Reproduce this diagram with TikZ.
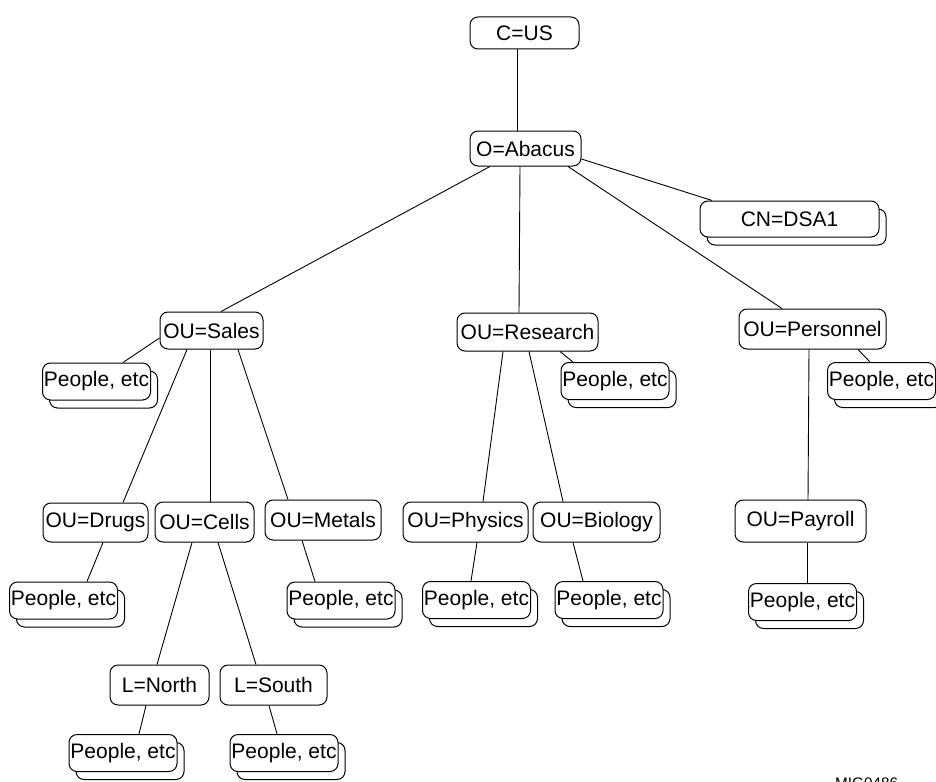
\documentclass[tikz,border=0pt]{standalone}
\usepackage{fontspec}
\setmainfont{Liberation Sans}
\usetikzlibrary{shadows}
\begin{document}
\begin{tikzpicture}[x=1pt,y=-1pt,
  every node/.style={font=\fontsize{21}{24}\selectfont},
  ent/.style={draw=black,line width=1pt,fill=white,rounded corners=8pt,inner sep=0pt,minimum height=37pt},
  stack/.style={ent,general shadow={shadow xshift=7pt,shadow yshift=-8pt,fill=white,draw=black,line width=1pt}},
  ppl/.style={stack,minimum width=108pt,minimum height=37pt},
  link/.style={line width=0.9pt}]
\useasboundingbox (0,0) rectangle (936,781);
% top
\node[ent,minimum width=109pt,minimum height=32pt] (cus) at (524.5,33) {C=US};
\node[ent,minimum width=111pt,minimum height=35pt] (abacus) at (525.5,148.5) {O=Abacus};
\node[stack,minimum width=179pt,minimum height=36pt] (cn) at (789.5,219) {CN=DSA1};
% level OU
\node[ent,minimum width=103pt] (sales) at (211.5,330.5) {OU=Sales};
\node[ent,minimum width=141pt,minimum height=38pt] (research) at (527.5,332) {OU=Research};
\node[ent,minimum width=147pt,minimum height=40pt] (personnel) at (812.5,329) {OU=Personnel};
\node[ppl] (psales) at (96.5,381.5) {People, etc};
\node[ppl] (presearch) at (615,381) {People, etc};
\node[ppl] (ppersonnel) at (881.5,381) {People, etc};
% sub OUs
\node[ent,minimum width=105pt,minimum height=39pt] (drugs) at (95.5,522.5) {OU=Drugs};
\node[ent,minimum width=99pt,minimum height=40pt] (cells) at (204.5,522) {OU=Cells};
\node[ent,minimum width=116pt,minimum height=40pt] (metals) at (323,520) {OU=Metals};
\node[ent,minimum width=125pt,minimum height=40pt] (physics) at (465.5,522) {OU=Physics};
\node[ent,minimum width=127pt,minimum height=40pt] (biology) at (596.5,522) {OU=Biology};
\node[ent,minimum width=131pt,minimum height=42pt] (payroll) at (800.5,521) {OU=Payroll};
\node[ppl] (pdrugs) at (63.5,600.5) {People, etc};
\node[ppl] (pmetals) at (341,600.5) {People, etc};
\node[ppl] (pphysics) at (476.5,600) {People, etc};
\node[ppl] (pbiology) at (609,600) {People, etc};
\node[ppl] (ppayroll) at (802.5,602) {People, etc};
% localities
\node[ent,minimum width=99pt,minimum height=40pt] (north) at (159.5,685) {L=North};
\node[ent,minimum width=107pt,minimum height=40pt] (south) at (273.5,685) {L=South};
\node[ppl] (pnorth) at (123,753) {People, etc};
\node[ppl] (psouth) at (284,753) {People, etc};
% label
\node[anchor=base west,inner sep=0pt,font=\fontsize{15.3}{18}\selectfont] (mig) at (835,788) {MIG0486};
% connectors
\draw[link] ([xshift=-7.5pt]cus.south) -- ([xshift=-8.5pt]abacus.north);
\draw[link] ([xshift=-35.5pt]abacus.south) -- ([xshift=9.5pt]sales.north);
\draw[link] ([xshift=-5.5pt]abacus.south) -- ([xshift=-8.5pt]research.north);
\draw[link] ([xshift=42.5pt]abacus.south) -- ([xshift=-30.5pt]personnel.north);
\draw[link] ([yshift=-10.5pt]abacus.east) -- ([xshift=-77.5pt]cn.north);
\draw[link] ([yshift=-7.5pt]sales.west) -- ([xshift=26.5pt]psales.north);
\draw[link] ([xshift=-24.5pt]sales.south) -- ([xshift=27.5pt]drugs.north);
\draw[link] ([xshift=-1.5pt]sales.south) -- ([xshift=5.5pt]cells.north);
\draw[link] ([xshift=26.5pt]sales.south) -- ([xshift=-35pt]metals.north);
\draw[link] ([xshift=32.5pt]research.south) -- ([xshift=-42pt]presearch.north);
\draw[link] ([xshift=-24.5pt]research.south) -- ([xshift=17.5pt]physics.north);
\draw[link] ([xshift=1.5pt]research.south) -- ([xshift=-33.5pt]biology.north);
\draw[link] ([xshift=45.5pt]personnel.south) -- ([xshift=-11.5pt]ppersonnel.north);
\draw[link] ([xshift=-3.5pt]personnel.south) -- ([xshift=7.5pt]payroll.north);
\draw[link] ([xshift=7.5pt]drugs.south) -- ([xshift=23.5pt]pdrugs.north);
\draw[link] ([xshift=-12.5pt]cells.south) -- ([xshift=-2.5pt]north.north);
\draw[link] ([xshift=13.5pt]cells.south) -- ([xshift=-17.5pt]south.north);
\draw[link] ([xshift=-21pt]metals.south) -- ([xshift=-26pt]pmetals.north);
\draw[link] ([xshift=11.5pt]physics.south) -- ([xshift=-5.5pt]pphysics.north);
\draw[link] ([xshift=-23.5pt]biology.south) -- ([xshift=-26pt]pbiology.north);
\draw[link] ([xshift=6.5pt]payroll.south) -- ([xshift=4.5pt]ppayroll.north);
\draw[link] ([xshift=-13.5pt]north.south) -- ([xshift=16pt]pnorth.north);
\draw[link] ([xshift=-4.5pt]south.south) -- ([xshift=-7pt]psouth.north);
\end{tikzpicture}
\end{document}
